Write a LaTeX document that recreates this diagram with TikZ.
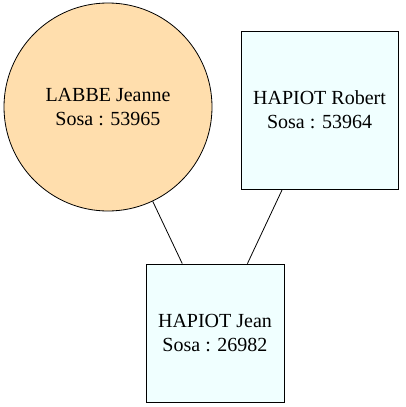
\documentclass[tikz,border=0pt]{standalone}
\usepackage{fontspec}
\setmainfont{Liberation Serif}
\usepackage{xcolor}
\usepackage{tikz}
\usetikzlibrary{positioning}
\definecolor{navajo}{HTML}{FFDEAD}
\definecolor{azur}{HTML}{F0FFFF}
\tikzset{
  every picture/.style={x=1pt, y=-1pt},
  femme/.style={circle, draw=black, fill=navajo, line width=0.8pt, inner sep=0pt,
                minimum size=208pt, align=center, font=\fontsize{20}{24}\selectfont},
  homme/.style={rectangle, draw=black, fill=azur, line width=0.8pt, inner sep=0pt,
                minimum width=157pt, minimum height=158pt, align=center, font=\fontsize{20}{24}\selectfont},
  lien/.style={draw=black, line width=0.8pt},
}
\begin{document}
\begin{tikzpicture}
  \useasboundingbox (0,0) rectangle (405,407);
  \node[femme] (jeanne) at (108,107) {LABBE Jeanne\\Sosa : 53965};
  \node[homme] (robert) at (319.5,110) {HAPIOT Robert\\Sosa : 53964};
  \node[homme, minimum width=138pt, minimum height=138pt] (jean) at (215,333) {HAPIOT Jean\\Sosa : 26982};
  \draw[lien] (jeanne) -- (jean); \draw[lien] (robert) -- (jean);
\end{tikzpicture}
\end{document}
